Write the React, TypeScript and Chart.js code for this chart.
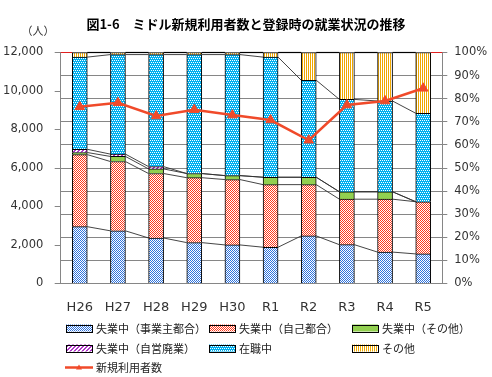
import React, { useEffect, useRef } from 'react';
import { Chart, registerables } from 'chart.js';

Chart.register(...registerables);

const title = '図1-6　ミドル新規利用者数と登録時の就業状況の推移';
const unitLabel = '（人）';
const categories = ['H26', 'H27', 'H28', 'H29', 'H30', 'R1', 'R2', 'R3', 'R4', 'R5'];

// shares (%) of employment status at registration
const unemployedEmployer = [24.6, 22.8, 19.7, 17.7, 16.7, 15.7, 20.6, 16.8, 13.6, 12.8];
const unemployedSelf = [31.2, 30.0, 27.9, 28.1, 28.3, 27.1, 22.2, 19.7, 22.9, 22.6];
const unemployedOther = [0.9, 2.2, 2.0, 1.8, 1.7, 3.2, 3.2, 3.2, 3.2, 0];
const unemployedBusinessClosed = [1.4, 1.0, 1.0, 0, 0, 0, 0, 0, 0, 0];
const employed = [39.9, 43.1, 48.5, 51.5, 52.4, 52.0, 42.0, 40.0, 39.3, 38.3];
const otherStatus = [2.0, 0.9, 0.9, 0.9, 0.9, 2.0, 12.0, 20.3, 21.0, 26.3];

// new users (persons)
const newUsers = [9180, 9390, 8700, 9030, 8750, 8490, 7440, 9270, 9480, 10140];

const barLabels = [
  '失業中（事業主都合）',
  '失業中（自己都合）',
  '失業中（その他）',
  '失業中（自営廃業）',
  '在職中',
  'その他',
];
const lineLabel = '新規利用者数';
const leftTicks = [0, 2000, 4000, 6000, 8000, 10000, 12000];

function tile(size: number, draw: (g: CanvasRenderingContext2D) => void) {
  const c = document.createElement('canvas');
  c.width = size;
  c.height = size;
  const g = c.getContext('2d')!;
  draw(g);
  return c;
}

function px(g: CanvasRenderingContext2D, color: string, pts: number[][]) {
  g.fillStyle = color;
  pts.forEach(([x, y]) => g.fillRect(x, y, 1, 1));
}

export default function App() {
  const ref = useRef<HTMLCanvasElement>(null);

  useEffect(() => {
    document.body.style.margin = '0';
    const canvas = ref.current!;
    const ctx = canvas.getContext('2d')!;

    const checker = (color: string) =>
      ctx.createPattern(
        tile(2, (g) => {
          g.fillStyle = '#ffffff';
          g.fillRect(0, 0, 2, 2);
          px(g, color, [[0, 0], [1, 1]]);
        }),
        'repeat'
      )!;
    const dotted = ctx.createPattern(
      tile(4, (g) => {
        g.fillStyle = '#00b0f0';
        g.fillRect(0, 0, 4, 4);
        px(g, '#ffffff', [[0, 0], [2, 0], [1, 2], [3, 2]]);
      }),
      'repeat'
    )!;
    const diagonal = ctx.createPattern(
      tile(4, (g) => {
        g.fillStyle = '#ffffff';
        g.fillRect(0, 0, 4, 4);
        const pts: number[][] = [];
        for (let x = 0; x < 4; x++) for (let y = 0; y < 4; y++) if ((x + y) % 4 < 2) pts.push([x, y]);
        px(g, '#b038c8', pts);
      }),
      'repeat'
    )!;
    const vertical = ctx.createPattern(
      tile(2, (g) => {
        g.fillStyle = '#ffffff';
        g.fillRect(0, 0, 2, 2);
        g.fillStyle = '#f0a800';
        g.fillRect(0, 0, 1, 2);
      }),
      'repeat'
    )!;

    const fills: any[] = [checker('#2f73dc'), checker('#ff3a1c'), '#92d050', diagonal, dotted, vertical];
    const barData = [unemployedEmployer, unemployedSelf, unemployedOther, unemployedBusinessClosed, employed, otherStatus];

    const lineColor = '#f04a2a';

    const seriesLines = {
      id: 'seriesLines',
      beforeDatasetsDraw(chart: any) {
        const c = chart.ctx as CanvasRenderingContext2D;
        const area = chart.chartArea;
        c.save();
        const barIdx: number[] = [];
        chart.data.datasets.forEach((ds: any, di: number) => {
          if (ds.type === 'bar') barIdx.push(di);
        });
        barIdx.forEach((di, k) => {
          const els = chart.getDatasetMeta(di).data as any[];
          const isTop = k === barIdx.length - 1;
          c.strokeStyle = isTop ? '#000000' : '#303030';
          c.lineWidth = isTop ? 1.2 : 0.9;
          for (let i = 0; i < els.length - 1; i++) {
            const a = els[i].getProps(['x', 'y', 'width'], true);
            const b = els[i + 1].getProps(['x', 'y', 'width'], true);
            c.beginPath();
            c.moveTo(a.x + a.width / 2, a.y);
            c.lineTo(b.x - b.width / 2, b.y);
            c.stroke();
          }
          if (isTop && els.length) {
            const f = els[0].getProps(['x', 'y', 'width'], true);
            const l = els[els.length - 1].getProps(['x', 'y', 'width'], true);
            c.strokeStyle = '#e02020';
            c.beginPath();
            c.moveTo(area.left, f.y);
            c.lineTo(f.x - f.width / 2, f.y);
            c.moveTo(l.x + l.width / 2, l.y);
            c.lineTo(area.right, l.y);
            c.stroke();
          }
        });
        c.restore();
      },
    };

    const customLegend = {
      id: 'customLegend',
      afterDraw(chart: any) {
        const c = chart.ctx as CanvasRenderingContext2D;
        c.save();
        const colsX = [66, 209, 352];
        const rowsY = [328, 348, 367.5];
        c.font = '11px "Noto Sans CJK JP"';
        c.textBaseline = 'middle';
        c.textAlign = 'left';
        let bi = 0;
        chart.data.datasets.forEach((ds: any) => {
          if (ds.type !== 'bar') return;
          const x = colsX[bi % 3];
          const y = rowsY[Math.floor(bi / 3)];
          c.fillStyle = ds.backgroundColor;
          c.fillRect(x, y - 3.5, 26, 7);
          c.strokeStyle = '#000';
          c.lineWidth = 1;
          c.strokeRect(Math.round(x) + 0.5, Math.round(y - 3.5) + 0.5, 26, 7);
          c.fillStyle = '#222';
          c.fillText(ds.label, x + 30, y + 0.5);
          bi++;
        });
        chart.data.datasets.forEach((ds: any) => {
          if (ds.type !== 'line') return;
          const x = colsX[0];
          const y = rowsY[2];
          c.strokeStyle = ds.borderColor;
          c.lineWidth = 2.5;
          c.beginPath();
          c.moveTo(x - 1, y);
          c.lineTo(x + 27, y);
          c.stroke();
          c.fillStyle = ds.borderColor;
          c.beginPath();
          c.moveTo(x + 13, y - 3);
          c.lineTo(x + 16, y + 2);
          c.lineTo(x + 10, y + 2);
          c.closePath();
          c.fill();
          c.fillStyle = '#222';
          c.fillText(ds.label, x + 30, y + 0.5);
        });
        c.font = '11px "Noto Sans CJK JP"';
        c.textAlign = 'center';
        c.fillStyle = '#333';
        c.fillText(unitLabel, 38, 31);
        c.restore();
      },
    };

    const tickFont = { family: '"DejaVu Sans"', size: 11.5 };

    const chart = new Chart(ctx, {
      type: 'bar',
      data: {
        labels: categories,
        datasets: [
          {
            type: 'line' as const,
            label: lineLabel,
            data: newUsers,
            yAxisID: 'y',
            borderColor: lineColor,
            backgroundColor: lineColor,
            borderWidth: 2.5,
            pointStyle: 'triangle',
            pointRadius: 5.5,
            pointBackgroundColor: lineColor,
            pointBorderColor: lineColor,
            pointBorderWidth: 1,
            tension: 0,
            order: 0,
          } as any,
          ...barData.map((d, i) => ({
            type: 'bar' as const,
            label: barLabels[i],
            data: d,
            yAxisID: 'y1',
            backgroundColor: fills[i],
            borderColor: '#000000',
            borderWidth: 1,
            borderSkipped: 'start',
            barThickness: 15,
            stack: 'share',
            order: 1,
          })),
        ],
      },
      options: {
        animation: false,
        responsive: false,
        devicePixelRatio: 1,
        layout: { padding: 0 },
        plugins: {
          legend: { display: false },
          tooltip: { enabled: false },
          title: {
            display: true,
            text: title,
            color: '#000',
            font: { family: '"Noto Sans CJK JP"', size: 13, weight: 'bold' },
            padding: { top: 16.2, bottom: 20.7 },
          },
        },
        scales: {
          x: {
            stacked: true,
            grid: { display: false, drawTicks: false },
            border: { display: true, color: '#868686' },
            ticks: { color: '#333', font: { family: '"DejaVu Sans"', size: 13 }, padding: 16 },
            afterFit: (s: any) => {
              s.height = 93.5;
            },
          },
          y: {
            position: 'left',
            min: 0,
            max: 12000,
            afterBuildTicks: (s: any) => {
              s.ticks = leftTicks.map((v) => ({ value: v }));
            },
            ticks: {
              color: '#333',
              font: tickFont,
              padding: 11.4,
              callback: (v: any) => Number(v).toLocaleString('en-US'),
            },
            grid: { drawOnChartArea: false, drawTicks: true, tickLength: 6, color: '#868686' },
            border: { color: '#868686' },
            afterFit: (s: any) => {
              s.width = 60.7;
            },
          },
          y1: {
            position: 'right',
            stacked: true,
            min: 0,
            max: 100,
            ticks: {
              stepSize: 10,
              color: '#333',
              font: tickFont,
              padding: 7,
              callback: (v: any) => v + '%',
            },
            grid: { drawOnChartArea: true, drawTicks: true, tickLength: 5, color: '#868686' },
            border: { color: '#868686' },
            afterFit: (s: any) => {
              s.width = 49.7;
            },
          },
        },
      } as any,
      plugins: [seriesLines, customLegend],
    });

    return () => chart.destroy();
  }, []);

  return <canvas ref={ref} width={492} height={377} style={{ display: 'block' }} />;
}
